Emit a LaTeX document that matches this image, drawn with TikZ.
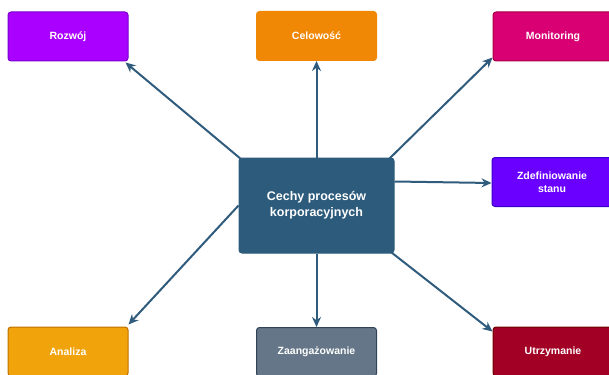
\documentclass[tikz,border=0pt]{standalone}
\usepackage{fontspec}
\setmainfont{Liberation Sans}
\usetikzlibrary{arrows.meta}
\definecolor{cRoz}{HTML}{AA00FF}\definecolor{bRoz}{HTML}{7700CC}
\definecolor{cCel}{HTML}{F08705}\definecolor{bCel}{HTML}{F08705}
\definecolor{cMon}{HTML}{D80073}\definecolor{bMon}{HTML}{A50040}
\definecolor{cZde}{HTML}{6A00FF}\definecolor{bZde}{HTML}{3700CC}
\definecolor{cAna}{HTML}{F0A30A}\definecolor{bAna}{HTML}{BD7000}
\definecolor{cZaa}{HTML}{647687}\definecolor{bZaa}{HTML}{314354}
\definecolor{cUtr}{HTML}{A20025}\definecolor{bUtr}{HTML}{6F0000}
\definecolor{cCen}{HTML}{2D5B7C}\definecolor{arr}{HTML}{2F5B7C}
\tikzset{
  box/.style={rounded corners=3pt, line width=1pt, minimum width=120pt, minimum height=49pt,
    text=white, font=\bfseries\fontsize{10.5}{12.5}\selectfont, align=center, inner sep=0pt},
  conn/.style={draw=arr, line width=2pt, -{Stealth[length=10pt,width=9pt]}}
}
\begin{document}
\begin{tikzpicture}[x=1pt,y=-1pt]
\useasboundingbox (0,0) rectangle (609,374);
\node[box, fill=cCen, draw=cCen, minimum width=155pt, minimum height=95pt,
  font=\bfseries\fontsize{12.5}{16}\selectfont] (c) at (316.5,205.5) {Cechy procesów\\korporacyjnych};
\node[box, fill=cRoz, draw=bRoz] (roz) at (68,36.5) {Rozwój};
\node[box, fill=cCel, draw=bCel] (cel) at (316.5,36) {Celowość};
\node[box, fill=cMon, draw=bMon] (mon) at (553,36.5) {Monitoring};
\node[box, fill=cZde, draw=bZde] (zde) at (552,182) {Zdefiniowanie\\stanu};
\node[box, fill=cAna, draw=bAna] (ana) at (68,351.5) {Analiza};
\node[box, fill=cZaa, draw=bZaa] (zaa) at (316.5,352) {Zaangażowanie};
\node[box, fill=cUtr, draw=bUtr] (utr) at (553,351.5) {Utrzymanie};
\draw[conn] ([shift={(3pt,-2pt)}]c.north west) -- ([shift={(-3pt,-1pt)}]roz.south east);
\draw[conn] (c.north) -- (cel.south);
\draw[conn] ([shift={(-5pt,-1pt)}]c.north east) -- ([shift={(0pt,4pt)}]mon.south west);
\draw[conn] ([yshift=24pt]c.east) -- ([yshift=-1pt]zde.west);
\draw[conn] (c.west) -- ([shift={(0pt,2pt)}]ana.north east);
\draw[conn] (c.south) -- (zaa.north);
\draw[conn] ([shift={(-3pt,1pt)}]c.south east) -- ([shift={(0pt,-5pt)}]utr.north west);
\end{tikzpicture}
\end{document}
